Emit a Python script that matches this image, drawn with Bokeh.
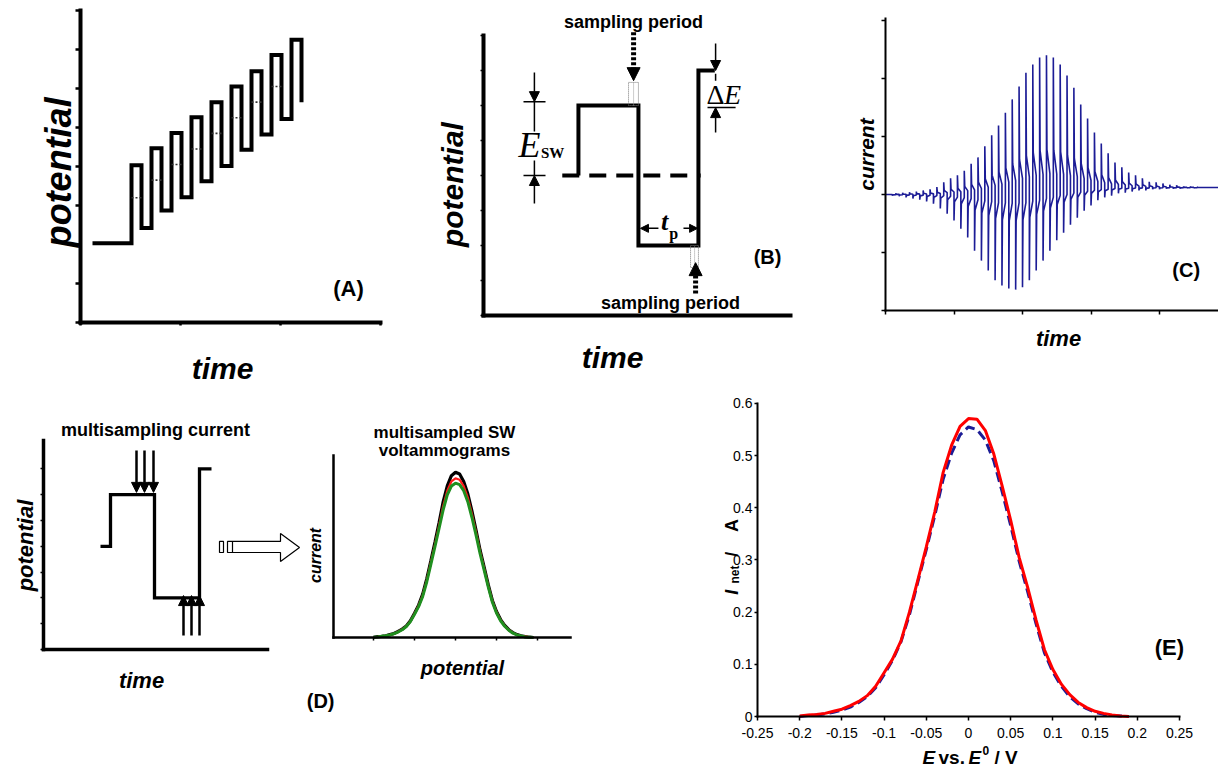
import math
from bokeh.plotting import figure
from bokeh.layouts import column, row
from bokeh.models import (Label, Arrow, NormalHead, FixedTicker,
                          CustomJSTickFormatter, Range1d)
from bokeh.embed import file_html
from bokeh.resources import INLINE

# ------------------------------------------------------------------ DATA
# (A) staircase square-wave potential programme (time units, potential units)
A_FLAT_START = 1.2
A_FLAT_LEVEL = 2.03
A_EDGE_TIMES = [5.1, 6.1, 7.1, 8.1, 9.1, 10.1, 11.1, 12.1, 13.1,
                14.1, 15.1, 16.1, 17.1, 18.1, 19.1, 20.1, 21.1, 22.1]
A_TOPS = [4.03, 4.47, 4.86, 5.26, 5.65, 6.05, 6.44, 6.86, 7.25]
A_BOTTOMS = [2.42, 2.87, 3.21, 3.62, 4.01, 4.43, 4.82, 5.22, 5.65]
A_MIDS = [3.20, 3.65, 4.05, 4.45, 4.85, 5.25, 5.65, 6.05]
A_XTICKS = [0, 10, 20, 30]
A_YTICKS = [0, 1, 2, 3, 4, 5, 6, 7, 8]

# (B) one square-wave cycle
B_TIMES = [4.7, 4.7, 7.67, 7.67, 10.64, 10.64, 11.45]
B_LEVELS = [4, 6, 6, 2, 2, 7, 7]
B_BASE_T = [3.9, 10.75]
B_BASE_LEVEL = 4
B_YTICKS = [0, 1, 2, 3, 4, 5, 6, 7, 8]

# (C) current response: per period k = 1..45, down spike at t=k, up spike at t=k+0.5
C_DOWN = [-0.02, -0.03, -0.05, -0.07, -0.09, -0.12, -0.16, -0.24, -0.33, -0.45,
          -0.59, -0.74, -0.97, -1.14, -1.31, -1.48, -1.57, -1.62, -1.64, -1.60,
          -1.48, -1.31, -1.14, -0.97, -0.79, -0.66, -0.52, -0.40, -0.28, -0.19,
          -0.10, -0.05, -0.02, 0.02, 0.03, 0.05, 0.07, 0.07, 0.09, 0.09,
          0.10, 0.10, 0.10, 0.11, 0.11]
C_UP = [0.02, 0.03, 0.04, 0.05, 0.07, 0.09, 0.13, 0.21, 0.28, 0.33,
        0.41, 0.53, 0.64, 0.83, 1.02, 1.19, 1.41, 1.64, 1.86, 2.10,
        2.24, 2.36, 2.40, 2.36, 2.24, 2.05, 1.84, 1.55, 1.31, 1.07,
        0.88, 0.71, 0.55, 0.47, 0.38, 0.33, 0.28, 0.22, 0.21, 0.19,
        0.17, 0.16, 0.14, 0.14, 0.13]
C_BASE = [0.0, 0.0, 0.0, 0.0, 0.0, 0.0, 0.0, 0.01, 0.01, 0.01,
          0.02, 0.02, 0.03, 0.03, 0.04, 0.04, 0.05, 0.05, 0.06, 0.06,
          0.07, 0.07, 0.08, 0.08, 0.09, 0.09, 0.10, 0.10, 0.10, 0.11,
          0.11, 0.11, 0.12, 0.12, 0.12, 0.12, 0.12, 0.12, 0.12, 0.12,
          0.12, 0.12, 0.12, 0.12, 0.12]
C_END_T = 48.6
C_XTICKS = [0, 10, 20, 30, 40]
C_YTICKS = [-2, -1, 0, 1, 2, 3]

# (D) multisampling scheme
D1_TIMES = [5.7, 6.7, 6.7, 11.1, 11.1, 15.6, 15.6, 16.8]
D1_LEVELS = [4, 4, 6, 6, 2, 2, 7, 7]
D1_DOWN_T = [9.3, 10.1, 11.0]
D1_UP_T = [14.0, 14.8, 15.6]
D1_YTICKS = [0, 1, 2, 3, 4, 5, 6, 7]

# shared potential grid (V vs E0) for (D) voltammograms and (E)
E_X = [-0.20, -0.19, -0.18, -0.17, -0.16, -0.15, -0.14, -0.13, -0.12, -0.11,
       -0.10, -0.09, -0.08, -0.07, -0.06, -0.05, -0.04, -0.03, -0.02, -0.01,
       0.00, 0.01, 0.02, 0.03, 0.04, 0.05, 0.06, 0.07, 0.08, 0.09,
       0.10, 0.11, 0.12, 0.13, 0.14, 0.15, 0.16, 0.17, 0.18, 0.19]
D_BLACK = [0.001, 0.003, 0.004, 0.006, 0.010, 0.014, 0.021, 0.029, 0.040, 0.058,
           0.084, 0.112, 0.150, 0.204, 0.266, 0.330, 0.398, 0.470, 0.525, 0.560,
           0.572, 0.566, 0.540, 0.497, 0.438, 0.372, 0.302, 0.243, 0.182, 0.128,
           0.090, 0.062, 0.042, 0.027, 0.017, 0.010, 0.006, 0.003, 0.001, 0.000]
D_RED = [0.001, 0.002, 0.004, 0.006, 0.009, 0.013, 0.020, 0.028, 0.039, 0.056,
         0.082, 0.110, 0.146, 0.198, 0.260, 0.322, 0.388, 0.455, 0.508, 0.540,
         0.551, 0.546, 0.524, 0.484, 0.428, 0.365, 0.297, 0.238, 0.178, 0.125,
         0.088, 0.060, 0.040, 0.026, 0.016, 0.009, 0.005, 0.003, 0.001, 0.000]
D_GREEN = [0.001, 0.002, 0.004, 0.006, 0.009, 0.013, 0.019, 0.027, 0.038, 0.055,
           0.080, 0.107, 0.142, 0.193, 0.254, 0.315, 0.378, 0.442, 0.494, 0.524,
           0.534, 0.529, 0.508, 0.470, 0.416, 0.355, 0.290, 0.232, 0.174, 0.122,
           0.085, 0.058, 0.039, 0.025, 0.015, 0.009, 0.005, 0.002, 0.001, 0.000]
D2_XTICKS = [-0.2, -0.1, 0.0, 0.1, 0.2]

# (E) net current vs E - E0
E_RED = [0.001, 0.003, 0.004, 0.006, 0.010, 0.014, 0.021, 0.029, 0.040, 0.058,
         0.084, 0.110, 0.145, 0.200, 0.262, 0.325, 0.392, 0.468, 0.520, 0.556,
         0.571, 0.570, 0.548, 0.503, 0.441, 0.376, 0.305, 0.248, 0.185, 0.128,
         0.090, 0.062, 0.042, 0.027, 0.017, 0.010, 0.006, 0.003, 0.001, 0.000]
E_BLUE = [0.000, 0.002, 0.003, 0.005, 0.008, 0.012, 0.018, 0.027, 0.038, 0.055,
          0.080, 0.108, 0.143, 0.195, 0.258, 0.320, 0.385, 0.455, 0.505, 0.540,
          0.555, 0.550, 0.530, 0.490, 0.430, 0.366, 0.298, 0.240, 0.178, 0.122,
          0.085, 0.058, 0.038, 0.024, 0.015, 0.008, 0.004, 0.002, 0.001, 0.000]
E_XTICKS = [-0.25, -0.2, -0.15, -0.1, -0.05, 0.0, 0.05, 0.1, 0.15, 0.2, 0.25]
E_YTICKS = [0.0, 0.1, 0.2, 0.3, 0.4, 0.5, 0.6]

# ------------------------------------------------------------------ helpers
SANS = "Liberation Sans"
SERIF = "Liberation Serif"
NAVY = "#1c1c96"


def make_panel(fig_ref, xmap, ymap):
    """Figure whose plotting frame fills the whole panel; xmap/ymap give the
    pixel position of data: px_x = ax + bx*x, px_y = ay - by*y."""
    fx0, fy0, fx1, fy1 = fig_ref
    ax, bx = xmap
    ay, by = ymap
    p = figure(width=fx1 - fx0, height=fy1 - fy0,
               x_range=Range1d((fx0 - ax) / bx, (fx1 - ax) / bx),
               y_range=Range1d((ay - fy1) / by, (ay - fy0) / by),
               output_backend="svg", toolbar_location=None, tools="",
               min_border=0)
    p.outline_line_color = None
    p.grid.visible = False
    p.background_fill_color = "white"
    p.border_fill_color = "white"
    return p


def style_axis(ax, lw, ticks, tick_out, loc, bounds, tick_w=1.5, labels=False):
    ax.fixed_location = loc
    ax.bounds = bounds
    ax.axis_line_width = lw
    ax.axis_line_color = "black"
    ax.axis_line_cap = "square"
    ax.ticker = FixedTicker(ticks=ticks, minor_ticks=[])
    ax.major_tick_in = 0
    ax.major_tick_out = tick_out
    ax.major_tick_line_width = tick_w
    ax.major_tick_line_color = "black" if tick_out > 0 else None
    ax.minor_tick_in = 0
    ax.minor_tick_out = 0
    if not labels:
        ax.major_label_text_color = None
        ax.major_label_text_font_size = "0px"
        ax.major_label_standoff = 0


def text(p, x, y, s, size, style="bold", font=SANS, angle=0.0, align="center",
         baseline="middle", xo=0, yo=0, color="black"):
    p.add_layout(Label(x=x, y=y, text=s, text_font=font,
                       text_font_size=f"{size}px",
                       text_font_style=style, text_color=color, angle=angle,
                       text_align=align, text_baseline=baseline,
                       x_offset=xo, y_offset=yo))


def arrow(p, x0, y0, x1, y1, lw=1.5, head=10, dash="solid"):
    p.add_layout(Arrow(x_start=x0, y_start=y0, x_end=x1, y_end=y1,
                       line_width=lw, line_color="black", line_dash=dash,
                       end=NormalHead(size=head, fill_color="black",
                                      line_color="black", line_width=1)))


ROT = math.pi / 2

# ------------------------------------------------------------------ (A)
pa = make_panel((0, 0, 425, 390), (80, 10), (322, 39))
style_axis(pa.xaxis[0], 4, A_XTICKS, 3, 0, (0, 30), 2.5)
style_axis(pa.yaxis[0], 4, A_YTICKS, 5, 0, (0, 8), 2.5)
levels = []
for top, bot in zip(A_TOPS, A_BOTTOMS):
    levels += [top, bot]
ax_, ay_ = [A_FLAT_START], [A_FLAT_LEVEL]
prev = A_FLAT_LEVEL
for j, t in enumerate(A_EDGE_TIMES):
    ax_ += [t, t]
    ay_ += [prev, levels[j]]
    prev = levels[j]
pa.line(ax_, ay_, line_width=4, color="black", line_join="miter")
pa.segment(x0=A_EDGE_TIMES[0::2][:8], x1=A_EDGE_TIMES[1::2][:8],
           y0=A_MIDS, y1=A_MIDS, line_width=1.6, line_color="#333333",
           line_dash="2 2")
text(pa, -2.2, 3.85, "potential", 36, "bold italic", angle=ROT)
text(pa, 14.2, -1.18, "time", 30, "bold italic")
text(pa, 26.8, 0.87, "(A)", 22)

# ------------------------------------------------------------------ (B)
pb = make_panel((425, 0, 835, 390), (483, 20.2), (315, 35))
style_axis(pb.xaxis[0], 4, [], 0, 0, (0, 15.2))
style_axis(pb.yaxis[0], 4, B_YTICKS, 3, 0, (0, 8))
pb.line(B_BASE_T, [B_BASE_LEVEL, B_BASE_LEVEL], line_width=4, color="black",
        line_dash="17 10")
pb.line(B_TIMES, B_LEVELS, line_width=4, color="black", line_join="miter")
# sampling windows
pb.quad(left=[7.18, 10.25], right=[7.67, 10.64], bottom=[6.0, 1.37],
        top=[6.66, 2.0], fill_color=None, line_color="#777777", line_width=1,
        line_dash="1 1")
pb.segment(x0=[7.43, 10.45], x1=[7.43, 10.45], y0=[6.0, 1.37], y1=[6.66, 2.0],
           line_color="#999999", line_width=1, line_dash="1 1")
arrow(pb, 7.43, 8.09, 7.43, 6.71, lw=5, head=13, dash="3 2")
arrow(pb, 10.5, 0.63, 10.5, 1.51, lw=5, head=13, dash="3 2")
text(pb, 7.43, 8.4, "sampling period", 18)
text(pb, 9.26, 0.37, "sampling period", 18)
# E_sw
pb.segment(x0=[1.98, 1.98], x1=[3.07, 3.07], y0=[6.11, 4.0], y1=[6.11, 4.0],
           line_width=1.5, color="black")
pb.segment(x0=[2.52, 2.52], x1=[2.52, 2.52], y0=[6.11, 4.43], y1=[5.26, 4.0],
           line_width=1.5, color="black")
arrow(pb, 2.52, 6.94, 2.52, 6.11, lw=1.5, head=10)
arrow(pb, 2.52, 3.2, 2.52, 4.0, lw=1.5, head=10)
text(pb, 2.28, 4.86, "E", 36, "italic", font=SERIF)
text(pb, 3.42, 4.63, "SW", 15, "bold", font=SERIF)
# Delta E
arrow(pb, 11.49, 7.77, 11.49, 7.0, lw=1.5, head=10)
pb.segment(x0=[11.49], x1=[11.49], y0=[6.91], y1=[6.71], line_width=1.5,
           color="black")
pb.segment(x0=[11.09], x1=[12.48], y0=[5.94], y1=[5.94], line_width=1.5,
           color="black")
arrow(pb, 11.49, 5.23, 11.49, 5.94, lw=1.5, head=10)
text(pb, 11.49, 6.31, "\u0394", 28, "normal", font=SERIF)
text(pb, 12.33, 6.31, "E", 28, "italic", font=SERIF)
# t_p
arrow(pb, 8.66, 2.49, 7.77, 2.49, lw=1.5, head=8)
arrow(pb, 9.9, 2.49, 10.6, 2.49, lw=1.5, head=8)
text(pb, 8.96, 2.69, "t", 26, "bold italic", font=SERIF)
text(pb, 9.41, 2.34, "p", 16, "bold", font=SERIF)
text(pb, -1.53, 3.74, "potential", 30, "bold italic", angle=ROT)
text(pb, 6.39, -1.2, "time", 30, "bold italic")
text(pb, 14.06, 1.66, "(B)", 20)

# ------------------------------------------------------------------ (C)
pc = make_panel((835, 0, 1218, 390), (885, 6.85), (194, 58))
style_axis(pc.xaxis[0], 2, C_XTICKS, 4, -2, (0, C_END_T))
style_axis(pc.yaxis[0], 2, C_YTICKS, 4, 0, (-2, 3.03))
tx, ty = [0.0], [0.0]
level = 0.0
for i in range(len(C_UP)):
    k = i + 1
    b, d, u = C_BASE[i], C_DOWN[i], C_UP[i]
    td, tu = k, k + 0.5
    tx += [td, td, td + 0.07, tu, tu, tu + 0.07]
    ty += [level, d, b + 0.3 * (d - b), b + 0.12 * (d - b), u, b + 0.3 * (u - b)]
    level = b + 0.12 * (u - b)
tx += [len(C_UP) + 1.0, C_END_T]
ty += [level, C_BASE[-1]]
pc.line(tx, ty, line_width=1.6, color=NAVY, line_join="bevel")
text(pc, -2.77, 0.69, "current", 21, "bold italic", angle=ROT)
text(pc, 25.26, -2.48, "time", 22, "bold italic")
text(pc, 43.9, -1.31, "(C)", 20)

# ------------------------------------------------------------------ (D) left
pd1 = make_panel((0, 390, 302, 768), (43, 10), (649, 25.8))
style_axis(pd1.xaxis[0], 3.5, [], 0, 0, (0, 22.4))
style_axis(pd1.yaxis[0], 3.5, D1_YTICKS, 3, 0, (0, 8.1))
pd1.line(D1_TIMES, D1_LEVELS, line_width=3.3, color="black", line_join="miter")
for t in D1_DOWN_T:
    arrow(pd1, t, 7.71, t, 6.09, lw=2.5, head=10)
for t in D1_UP_T:
    arrow(pd1, t, 0.54, t, 2.09, lw=2.5, head=10)
# open arrow pointing to the voltammograms
pd1.patch([18.4, 23.7, 23.7, 25.6, 23.7, 23.7, 18.4],
          [4.19, 4.19, 4.50, 3.95, 3.41, 3.76, 3.76],
          fill_color="white", line_color="black", line_width=1.2)
pd1.segment(x0=[18.9], x1=[18.9], y0=[3.76], y1=[4.19], line_color="black",
            line_width=1.2)
pd1.quad(left=[17.6], right=[18.0], bottom=[3.76], top=[4.19],
         fill_color="white", line_color="black", line_width=1.2)
text(pd1, 11.2, 8.49, "multisampling current", 18)
text(pd1, -1.8, 4.03, "potential", 22, "bold italic", angle=ROT)
text(pd1, 9.8, -1.2, "time", 22, "bold italic")

# ------------------------------------------------------------------ (D) right
pd2 = make_panel((302, 390, 620, 768), (455, 410), (637, 289))
D2_X0, D2_X1 = (333 - 455) / 410, (570 - 455) / 410
style_axis(pd2.xaxis[0], 2.5, D2_XTICKS, 3, 0, (D2_X0, D2_X1))
style_axis(pd2.yaxis[0], 2.5, [], 0, D2_X0, (0, 0.63))
pd2.line(E_X, D_BLACK, line_width=3.2, color="black")
pd2.line(E_X, D_RED, line_width=2.2, color="#ff1a1a")
pd2.line(E_X, D_GREEN, line_width=3, color="#1f8f1f")
text(pd2, -0.027, 0.709, "multisampled SW", 17)
text(pd2, -0.027, 0.647, "voltammograms", 17)
text(pd2, -0.341, 0.284, "current", 16, "bold italic", angle=ROT)
text(pd2, 0.017, -0.107, "potential", 20, "bold italic")
text(pd2, -0.329, -0.218, "(D)", 20)

# ------------------------------------------------------------------ (E)
pe = make_panel((620, 390, 1218, 768), (968, 844), (716, 521.7))
fmt = CustomJSTickFormatter(code="return String(Math.round(tick * 100) / 100);")
style_axis(pe.xaxis[0], 2, E_XTICKS, 4, 0, (-0.25, 0.25), labels=True)
style_axis(pe.yaxis[0], 2, E_YTICKS, 3, -0.25, (0, 0.6), labels=True)
for axis, stand in ((pe.xaxis[0], 7), (pe.yaxis[0], 2)):
    axis.formatter = fmt
    axis.major_label_text_font = SANS
    axis.major_label_text_font_size = "14px"
    axis.major_label_text_color = "black"
    axis.major_label_standoff = stand
pe.line(E_X, E_BLUE, line_width=3, color=NAVY, line_dash="10 5")
pe.line(E_X, E_RED, line_width=3, color="#ff0000")
# x-axis title: E vs.E0 / V
xb, yb = -0.0545, -0.0786
text(pe, xb, yb, "E", 19, "bold italic", align="left")
text(pe, xb, yb, "vs.", 19, "bold", align="left", xo=16)
text(pe, xb, yb, "E", 19, "bold italic", align="left", xo=46)
text(pe, xb, yb, "0", 12, "bold", align="left", xo=60, yo=7)
text(pe, xb, yb, "/ V", 19, "bold", align="left", xo=72)
# y-axis title: I_net / A
text(pe, -0.2808, 0.238, "I", 18, "bold italic", angle=ROT)
text(pe, -0.2761, 0.272, "net", 12, "bold", angle=ROT)
text(pe, -0.2808, 0.311, "/", 18, "bold", angle=ROT)
text(pe, -0.2808, 0.366, "A", 18, "bold", angle=ROT)
text(pe, 0.238, 0.132, "(E)", 22)

layout = column(row(pa, pb, pc), row(pd1, pd2, pe))
open("out.html", "w").write(file_html(layout, INLINE))
